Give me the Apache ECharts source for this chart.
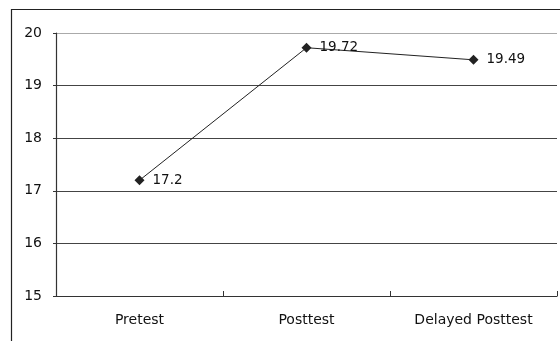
<!DOCTYPE html>
<html><head><meta charset="utf-8">
<script src="https://cdn.jsdelivr.net/npm/echarts@6/dist/echarts.min.js"></script>
<style>html,body{margin:0;padding:0;background:#fff}#c{width:560px;height:341px}</style>
</head><body><div id="c"></div>
<script>
const categories = ['Pretest', 'Posttest', 'Delayed Posttest'];
const scores = [17.2, 19.72, 19.49];
const yMin = 15, yMax = 20, yStep = 1;

const chart = echarts.init(document.getElementById('c'), null, {renderer: 'canvas'});
chart.setOption({
  animation: false,
  backgroundColor: '#fff',
  graphic: [{
    type: 'rect', left: 9, top: 7, silent: true,
    shape: {x: 0, y: 0, width: 600, height: 400},
    style: {fill: 'none', stroke: '#222', lineWidth: 1.2}
  }],
  grid: {left: 56, top: 33, right: 3, bottom: 45, containLabel: false},
  xAxis: {
    type: 'category', data: categories, boundaryGap: true,
    axisLine: {lineStyle: {color: '#333', width: 1.2}},
    axisTick: {show: true, inside: true, length: 5, lineStyle: {color: '#333'}},
    axisLabel: {color: '#111', fontFamily: 'DejaVu Sans', fontSize: 14, margin: 17}
  },
  yAxis: {
    type: 'value', min: yMin, max: yMax, interval: yStep,
    axisLine: {show: true, lineStyle: {color: '#333', width: 1.2}},
    axisTick: {show: true, length: 3, lineStyle: {color: '#333'}},
    axisLabel: {color: '#111', fontFamily: 'DejaVu Sans', fontSize: 14, margin: 14},
    splitLine: {show: true, lineStyle: {color: ['#444','#444','#444','#444','#444','#aaa'], width: 1.2}}
  },
  series: [{
    type: 'line', data: scores,
    symbol: 'diamond', symbolSize: 10,
    itemStyle: {color: '#222'},
    lineStyle: {color: '#222', width: 1},
    label: {show: true, position: 'right', distance: 8, color: '#111', fontFamily: 'DejaVu Sans', fontSize: 13.5}
  }]
});
</script></body></html>
